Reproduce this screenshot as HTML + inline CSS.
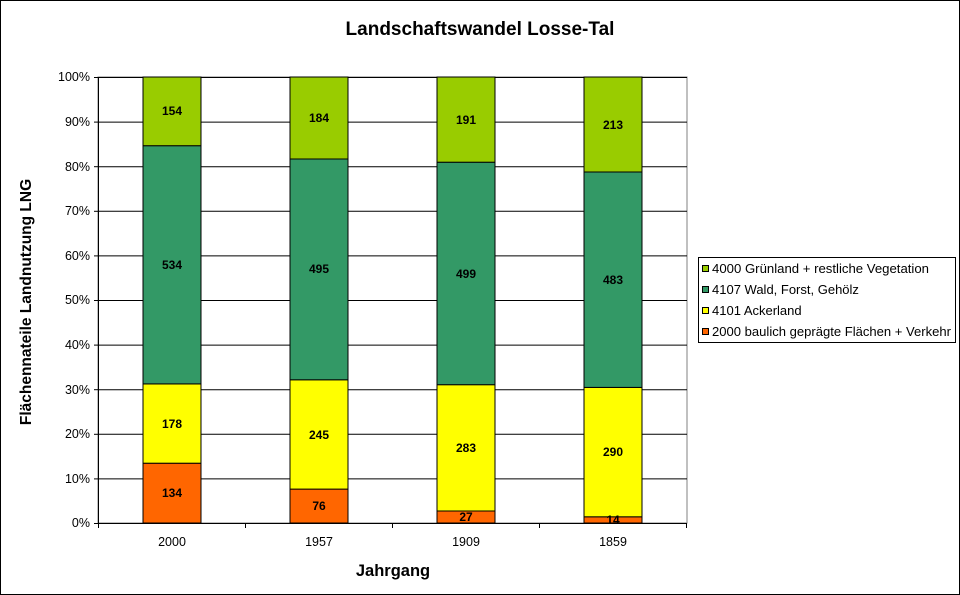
<!DOCTYPE html>
<html><head><meta charset="utf-8"><style>body{margin:0;background:#fff}svg{display:block}</style></head><body>
<svg width="960" height="595" xmlns="http://www.w3.org/2000/svg" font-family="Liberation Sans, Arial, sans-serif">
<rect x="0.5" y="0.5" width="959" height="594" fill="#fff" stroke="#000"/>
<text x="480" y="35" text-anchor="middle" font-size="19" font-weight="bold">Landschaftswandel Losse-Tal</text>
<rect x="98" y="77" width="589" height="446" fill="#fff" stroke="#808080"/>
<g stroke="#000" stroke-width="1">
<line x1="98" y1="77.5" x2="687" y2="77.5"/><line x1="98" y1="122.1" x2="687" y2="122.1"/><line x1="98" y1="166.7" x2="687" y2="166.7"/><line x1="98" y1="211.3" x2="687" y2="211.3"/><line x1="98" y1="255.9" x2="687" y2="255.9"/><line x1="98" y1="300.5" x2="687" y2="300.5"/><line x1="98" y1="345.1" x2="687" y2="345.1"/><line x1="98" y1="389.7" x2="687" y2="389.7"/><line x1="98" y1="434.3" x2="687" y2="434.3"/><line x1="98" y1="478.9" x2="687" y2="478.9"/>
<line x1="98.5" y1="77" x2="98.5" y2="523"/><line x1="98" y1="523.5" x2="687" y2="523.5"/>
</g>
<g stroke="#000" stroke-width="1">
<line x1="94" y1="77.5" x2="98" y2="77.5"/><line x1="94" y1="122.1" x2="98" y2="122.1"/><line x1="94" y1="166.7" x2="98" y2="166.7"/><line x1="94" y1="211.3" x2="98" y2="211.3"/><line x1="94" y1="255.9" x2="98" y2="255.9"/><line x1="94" y1="300.5" x2="98" y2="300.5"/><line x1="94" y1="345.1" x2="98" y2="345.1"/><line x1="94" y1="389.7" x2="98" y2="389.7"/><line x1="94" y1="434.3" x2="98" y2="434.3"/><line x1="94" y1="478.9" x2="98" y2="478.9"/><line x1="94" y1="523.5" x2="98" y2="523.5"/>
<line x1="245.5" y1="523" x2="245.5" y2="528"/><line x1="392.5" y1="523" x2="392.5" y2="528"/><line x1="539.5" y1="523" x2="539.5" y2="528"/><line x1="686.5" y1="523" x2="686.5" y2="528"/><line x1="98.5" y1="523" x2="98.5" y2="528"/>
</g>
<g font-size="12.5" text-anchor="end">
<text x="90" y="81">100%</text><text x="90" y="126">90%</text><text x="90" y="171">80%</text><text x="90" y="215">70%</text><text x="90" y="260">60%</text><text x="90" y="304">50%</text><text x="90" y="349">40%</text><text x="90" y="394">30%</text><text x="90" y="438">20%</text><text x="90" y="483">10%</text><text x="90" y="527">0%</text>
</g>
<g font-size="12.5" text-anchor="middle">
<text x="172" y="546">2000</text><text x="319" y="546">1957</text><text x="466" y="546">1909</text><text x="613" y="546">1859</text>
</g>
<text x="393" y="576" text-anchor="middle" font-size="16.5" font-weight="bold">Jahrgang</text>
<text transform="translate(31,302) rotate(-90)" text-anchor="middle" font-size="15.5" font-weight="bold">Flächennateile Landnutzung LNG</text>
<g stroke="#000" stroke-width="1">
<rect x="143" y="463.2" width="58" height="59.8" fill="#FF6600"/>
<rect x="143" y="383.9" width="58" height="79.3" fill="#FFFF00"/>
<rect x="143" y="145.7" width="58" height="238.2" fill="#339966"/>
<rect x="143" y="77" width="58" height="68.7" fill="#99CC00"/>
<rect x="290" y="489.1" width="58" height="33.9" fill="#FF6600"/>
<rect x="290" y="379.8" width="58" height="109.3" fill="#FFFF00"/>
<rect x="290" y="159" width="58" height="220.8" fill="#339966"/>
<rect x="290" y="77" width="58" height="82" fill="#99CC00"/>
<rect x="437" y="511" width="58" height="12" fill="#FF6600"/>
<rect x="437" y="384.7" width="58" height="126.3" fill="#FFFF00"/>
<rect x="437" y="162.2" width="58" height="222.5" fill="#339966"/>
<rect x="437" y="77" width="58" height="85.2" fill="#99CC00"/>
<rect x="584" y="516.8" width="58" height="6.2" fill="#FF6600"/>
<rect x="584" y="387.4" width="58" height="129.4" fill="#FFFF00"/>
<rect x="584" y="172" width="58" height="215.4" fill="#339966"/>
<rect x="584" y="77" width="58" height="95" fill="#99CC00"/>
</g>
<g font-size="12" font-weight="bold" text-anchor="middle">
<text x="172" y="497">134</text><text x="172" y="428">178</text><text x="172" y="269">534</text><text x="172" y="115">154</text>
<text x="319" y="510">76</text><text x="319" y="439">245</text><text x="319" y="273">495</text><text x="319" y="122">184</text>
<text x="466" y="521">27</text><text x="466" y="452">283</text><text x="466" y="278">499</text><text x="466" y="124">191</text>
<text x="613" y="524">14</text><text x="613" y="456">290</text><text x="613" y="284">483</text><text x="613" y="129">213</text>
</g>
<rect x="698.5" y="257.5" width="257" height="85" fill="#fff" stroke="#000"/>
<g stroke="#000" stroke-width="1">
<rect x="702.5" y="265.5" width="6" height="6" fill="#99CC00"/>
<rect x="702.5" y="286.5" width="6" height="6" fill="#339966"/>
<rect x="702.5" y="307.5" width="6" height="6" fill="#FFFF00"/>
<rect x="702.5" y="328.5" width="6" height="6" fill="#FF6600"/>
</g>
<g font-size="13">
<text x="712" y="273" textLength="217" lengthAdjust="spacingAndGlyphs">4000 Grünland + restliche Vegetation</text>
<text x="712" y="294">4107 Wald, Forst, Gehölz</text>
<text x="712" y="315">4101 Ackerland</text>
<text x="712" y="336" textLength="239" lengthAdjust="spacingAndGlyphs">2000 baulich geprägte Flächen + Verkehr</text>
</g>
</svg>
</body></html>
